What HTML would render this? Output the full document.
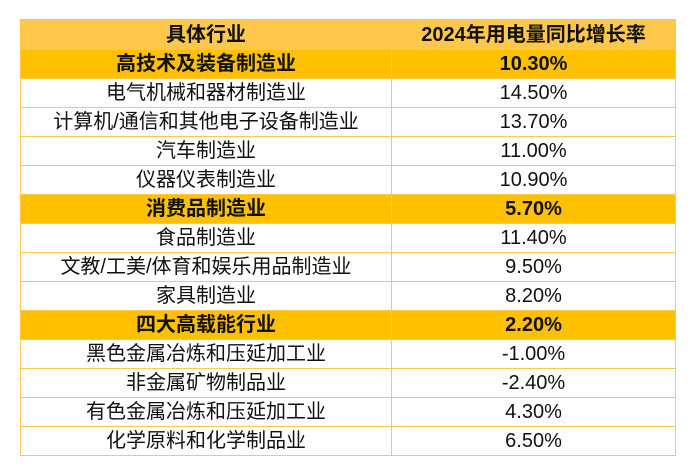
<!DOCTYPE html>
<html><head><meta charset="utf-8"><style>
body{margin:0;width:697px;height:476px;background:#fff;font-family:"Liberation Sans","Noto Sans CJK SC",sans-serif;}
table{position:absolute;left:20px;top:19px;border-collapse:collapse;width:656px;}
td{border:1px solid #FFC84A;height:28px;padding:0;text-align:center;font-size:20px;color:#111;line-height:28px;white-space:nowrap;}
td:first-child{width:370px;}
td+td{font-size:20px;}
tr.h td{background:#FFC84A;font-weight:bold;height:29px;}
tr.c td{background:#FFC000;font-weight:bold;}
</style></head><body>
<table>
<tr class="h"><td>具体行业</td><td>2024年用电量同比增长率</td></tr>
<tr class="c"><td>高技术及装备制造业</td><td>10.30%</td></tr>
<tr><td>电气机械和器材制造业</td><td>14.50%</td></tr>
<tr><td>计算机/通信和其他电子设备制造业</td><td>13.70%</td></tr>
<tr><td>汽车制造业</td><td>11.00%</td></tr>
<tr><td>仪器仪表制造业</td><td>10.90%</td></tr>
<tr class="c"><td>消费品制造业</td><td>5.70%</td></tr>
<tr><td>食品制造业</td><td>11.40%</td></tr>
<tr><td>文教/工美/体育和娱乐用品制造业</td><td>9.50%</td></tr>
<tr><td>家具制造业</td><td>8.20%</td></tr>
<tr class="c"><td>四大高载能行业</td><td>2.20%</td></tr>
<tr><td>黑色金属冶炼和压延加工业</td><td>-1.00%</td></tr>
<tr><td>非金属矿物制品业</td><td>-2.40%</td></tr>
<tr><td>有色金属冶炼和压延加工业</td><td>4.30%</td></tr>
<tr><td>化学原料和化学制品业</td><td>6.50%</td></tr>
</table>
</body></html>
